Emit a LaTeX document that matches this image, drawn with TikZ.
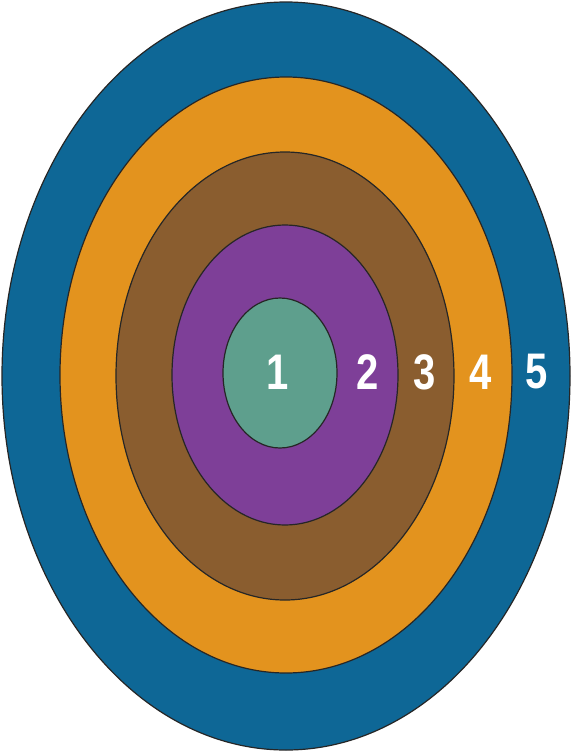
\documentclass[tikz,border=0pt]{standalone}
\usepackage{fontspec}
\setmainfont{Liberation Sans}
\begin{document}
\begin{tikzpicture}[x=1pt,y=-1pt,
  ring/.style={draw=black!85,line width=1.2pt},
  lbl/.style={text=white,font=\bfseries\fontsize{50}{50}\selectfont,xscale=0.8,inner sep=0pt}]
\definecolor{cblue}{HTML}{0E6796}
\definecolor{corange}{HTML}{E3931E}
\definecolor{cbrown}{HTML}{8A5D2F}
\definecolor{cpurple}{HTML}{7E3F98}
\definecolor{cteal}{HTML}{5E9F8D}
\useasboundingbox (0,0) rectangle (572,753);
\fill[white] (0,0) rectangle (572,753);
\draw[ring,fill=cblue] (286,376) ellipse [x radius=284, y radius=374];
\draw[ring,fill=corange] (286,375) ellipse [x radius=226, y radius=298];
\draw[ring,fill=cbrown] (285,376) ellipse [x radius=169, y radius=224];
\draw[ring,fill=cpurple] (285,375) ellipse [x radius=113, y radius=150];
\draw[ring,fill=cteal] (280,373) ellipse [x radius=57, y radius=75];
\node[lbl] (n1) at (278,372) {1};
\node[lbl] (n2) at (368,372) {2};
\node[lbl] (n3) at (425,372) {3};
\node[lbl] (n4) at (481,372) {4};
\node[lbl] (n5) at (537,372) {5};
\end{tikzpicture}
\end{document}
